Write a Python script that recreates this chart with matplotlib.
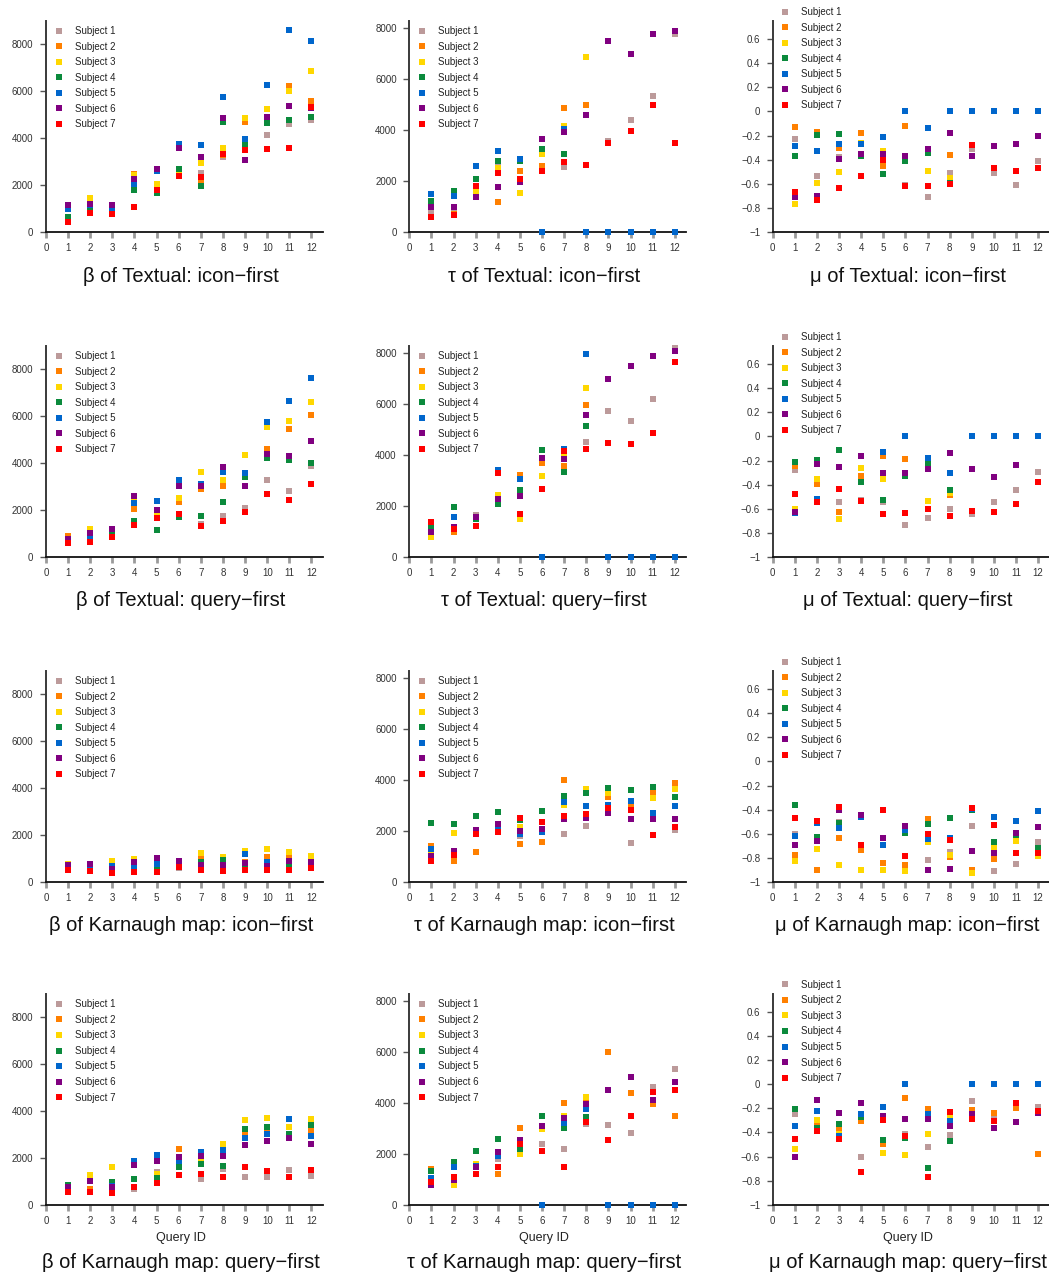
import matplotlib
matplotlib.use("Agg")
import matplotlib.pyplot as plt
from matplotlib.lines import Line2D

plt.rcParams["font.family"] = ["Liberation Sans", "DejaVu Sans"]

queries = list(range(1, 13))
subjects = ["Subject 1", "Subject 2", "Subject 3", "Subject 4",
            "Subject 5", "Subject 6", "Subject 7"]
colors = ["#bc9a9a", "#ff8000", "#ffd700", "#0b8a3c",
          "#0066cc", "#800080", "#ff0000"]

# rows: Subject 1..7, columns: Query 1..12
beta_textual_icon = [
    [1000, 1000, 780, 2300, 1750, 2450, 2540, 3220, 3815, 4155, 4600, 4780],
    [1150, 850, 1100, 2480, 1850, 2500, 2185, 3300, 4710, 4780, 6210, 5575],
    [650, 1447, 1150, 2440, 2040, 2580, 2965, 3600, 4880, 5250, 6000, 6865],
    [670, 1050, 920, 1800, 1690, 2700, 1985, 4680, 3700, 4640, 4795, 4920],
    [980, 1180, 1000, 2040, 2620, 3745, 3730, 5770, 3985, 6270, 8610, 8160],
    [1160, 1206, 1163, 2270, 2700, 3600, 3220, 4865, 3090, 4920, 5375, 5300],
    [450, 837, 766, 1090, 1815, 2410, 2370, 3320, 3500, 3560, 3600, 5350],
]
tau_textual_icon = [
    [850, 877, 1800, 2670, 2800, 2450, 2565, 2650, 3600, 4424, 5366, 7800],
    [1050, 700, 1700, 1204, 2408, 2618, 4895, 5013, 7510, 7016, 7801, 7906],
    [1000, 1000, 1610, 2540, 1531, 3076, 4160, 6898, 3520, 3992, 5013, 3521],
    [1217, 1623, 2107, 2814, 2800, 3285, 3089, 4620, 3520, 3992, 5013, 3521],
    [1505, 1440, 2618, 3194, 2880, 0, 4058, 0, 0, 0, 0, 0],
    [1008, 1008, 1400, 1793, 1990, 3678, 3953, 4620, 7513, 7016, 7801, 7906],
    [615, 680, 1832, 2343, 2094, 2421, 2762, 2657, 3521, 3992, 5013, 3521],
]
mu_textual_icon = [
    [-0.226, -0.532, -0.38, -0.35, -0.40, -0.61, -0.705, -0.512, -0.311, -0.507, -0.606, -0.408],
    [-0.127, -0.17, -0.30, -0.176, -0.449, -0.118, -0.31, -0.358, -0.28, -0.47, -0.49, -0.47],
    [-0.763, -0.59, -0.501, -0.26, -0.325, -0.37, -0.49, -0.554, -0.28, -0.47, -0.49, -0.47],
    [-0.366, -0.193, -0.187, -0.369, -0.515, -0.41, -0.347, -0.59, -0.365, -0.285, -0.27, -0.2],
    [-0.284, -0.325, -0.267, -0.267, -0.209, 0, -0.135, 0, 0, 0, 0, 0],
    [-0.708, -0.697, -0.391, -0.35, -0.35, -0.366, -0.309, -0.176, -0.366, -0.284, -0.267, -0.201],
    [-0.667, -0.735, -0.631, -0.532, -0.40, -0.614, -0.614, -0.598, -0.275, -0.466, -0.49, -0.466],
]
beta_textual_query = [
    [700, 900, 900, 1400, 1700, 1800, 1400, 1759, 2100, 3290, 2837, 3900],
    [922, 950, 1000, 2070, 2000, 2340, 2908, 3035, 3500, 4595, 5460, 6057],
    [780, 1190, 1100, 2480, 1870, 2540, 3645, 3290, 4355, 5560, 5800, 6610],
    [650, 800, 1020, 1546, 1177, 1716, 1773, 2355, 3430, 4227, 4142, 4014],
    [750, 880, 1220, 2300, 2411, 3277, 3135, 3645, 3600, 5760, 6652, 7631],
    [780, 1050, 1220, 2624, 2028, 3050, 3035, 3844, 3035, 4397, 4312, 4950],
    [596, 667, 850, 1376, 1688, 1858, 1348, 1546, 1943, 2695, 2454, 3120],
]
tau_textual_query = [
    [1000, 1150, 1660, 2300, 2600, 3900, 3900, 4529, 5746, 5366, 6230, 8233],
    [1100, 982, 1550, 2300, 3233, 3704, 3573, 5982, 7016, 7513, 7906, 8115],
    [785, 1126, 1584, 2448, 1505, 3194, 4100, 6662, 4503, 4463, 4895, 7683],
    [1204, 1990, 1490, 2094, 2631, 4215, 3364, 5170, 4503, 4463, 4895, 7683],
    [1400, 1597, 1584, 3416, 3076, 0, 4240, 7997, 0, 0, 0, 0],
    [1008, 1204, 1584, 2290, 2408, 3914, 3861, 5589, 7016, 7513, 7906, 8115],
    [1400, 1126, 1230, 3311, 1700, 2683, 4188, 4267, 4503, 4463, 4895, 7683],
]
mu_textual_query = [
    [-0.275, -0.53, -0.543, -0.53, -0.543, -0.733, -0.672, -0.60, -0.642, -0.54, -0.444, -0.292],
    [-0.245, -0.397, -0.625, -0.331, -0.165, -0.185, -0.60, -0.485, -0.614, -0.623, -0.556, -0.377],
    [-0.60, -0.35, -0.68, -0.259, -0.353, -0.631, -0.534, -0.47, -0.614, -0.623, -0.556, -0.377],
    [-0.209, -0.193, -0.113, -0.375, -0.526, -0.325, -0.231, -0.441, -0.267, -0.333, -0.234, -0.377],
    [-0.636, -0.518, -0.251, -0.163, -0.129, 0, -0.176, -0.30, 0, 0, 0, 0],
    [-0.625, -0.226, -0.251, -0.163, -0.30, -0.30, -0.267, -0.135, -0.267, -0.333, -0.234, -0.377],
    [-0.477, -0.54, -0.435, -0.532, -0.642, -0.631, -0.60, -0.658, -0.614, -0.623, -0.556, -0.377],
]
beta_karnaugh_icon = [
    [600, 500, 500, 500, 500, 600, 600, 600, 800, 600, 600, 600],
    [700, 600, 600, 700, 700, 700, 1007, 800, 850, 1092, 1120, 900],
    [800, 650, 922, 980, 750, 800, 1262, 1080, 1350, 1433, 1305, 1135],
    [650, 600, 550, 600, 640, 750, 865, 950, 667, 700, 723, 700],
    [700, 640, 709, 652, 794, 640, 752, 700, 1220, 865, 920, 800],
    [740, 794, 567, 865, 1035, 922, 752, 738, 837, 695, 922, 865],
    [510, 496, 411, 440, 454, 640, 525, 496, 525, 510, 525, 624],
]
tau_karnaugh_icon = [
    [900, 1000, 1900, 2000, 1806, 2000, 1898, 2212, 2900, 1545, 2600, 2042],
    [1427, 851, 1190, 2100, 1518, 1584, 4018, 3000, 3364, 3050, 3547, 3900],
    [1190, 1937, 1950, 2200, 2160, 2100, 3024, 3650, 3520, 3207, 3325, 3678],
    [2330, 2290, 2605, 2775, 2434, 2814, 3390, 3520, 3704, 3625, 3743, 3364],
    [1309, 1100, 2000, 2133, 1910, 1963, 3154, 2997, 3036, 3207, 2710, 3010],
    [1047, 1230, 2055, 2277, 2015, 2094, 2474, 2540, 2722, 2500, 2500, 2500],
    [851, 1086, 1898, 1976, 2526, 2369, 2605, 2696, 2932, 2853, 1872, 2173],
]
mu_karnaugh_icon = [
    [-0.60, -0.65, -0.50, -0.44, -0.63, -0.78, -0.815, -0.747, -0.532, -0.904, -0.846, -0.667],
    [-0.771, -0.898, -0.631, -0.733, -0.837, -0.857, -0.474, -0.793, -0.898, -0.804, -0.645, -0.755],
    [-0.821, -0.725, -0.857, -0.898, -0.898, -0.904, -0.664, -0.777, -0.92, -0.711, -0.661, -0.78],
    [-0.361, -0.623, -0.512, -0.69, -0.63, -0.59, -0.515, -0.466, -0.40, -0.667, -0.61, -0.716],
    [-0.614, -0.512, -0.551, -0.457, -0.689, -0.57, -0.645, -0.634, -0.394, -0.457, -0.49, -0.408],
    [-0.689, -0.656, -0.405, -0.441, -0.631, -0.532, -0.898, -0.887, -0.741, -0.755, -0.59, -0.543],
    [-0.466, -0.493, -0.377, -0.689, -0.402, -0.782, -0.60, -0.65, -0.383, -0.523, -0.755, -0.755],
]
beta_karnaugh_query = [
    [600, 600, 600, 672, 1400, 1700, 1116, 1531, 1202, 1173, 1502, 1245],
    [650, 700, 700, 1700, 1300, 2375, 2000, 2500, 3061, 3176, 3000, 3176],
    [700, 1259, 1602, 1800, 1316, 1900, 1903, 2604, 3605, 3691, 3305, 3662],
    [830, 1001, 973, 1087, 1159, 1617, 1731, 1674, 3219, 3305, 3033, 3405],
    [750, 1001, 800, 1860, 2146, 1888, 2260, 2360, 2861, 3019, 3662, 2918],
    [773, 1001, 758, 1688, 1860, 2031, 2074, 2103, 2532, 2718, 2847, 2575],
    [544, 572, 529, 787, 916, 1259, 1330, 1202, 1631, 1459, 1202, 1502],
]
tau_karnaugh_query = [
    [800, 1000, 1500, 1793, 2300, 2382, 2199, 3180, 3128, 2814, 4620, 5327],
    [1420, 1100, 1600, 1204, 3010, 3000, 3992, 4058, 5995, 4385, 3979, 3495],
    [1000, 798, 1623, 2000, 2003, 2971, 3495, 4228, 4503, 3495, 4437, 4503],
    [1335, 1675, 2120, 2578, 2212, 3495, 3024, 3469, 2552, 3495, 4437, 4503],
    [1073, 1479, 1550, 1937, 2565, 0, 3207, 3770, 0, 0, 0, 0],
    [798, 968, 1492, 2068, 2539, 3089, 3416, 3966, 4503, 5013, 4110, 4817],
    [890, 1099, 1204, 1479, 2382, 2120, 1479, 3259, 2552, 3495, 4437, 4503],
]
mu_karnaugh_query = [
    [-0.25, -0.30, -0.36, -0.60, -0.47, -0.41, -0.517, -0.422, -0.142, -0.267, -0.156, -0.186],
    [-0.206, -0.336, -0.364, -0.305, -0.494, -0.117, -0.206, -0.24, -0.217, -0.242, -0.194, -0.575],
    [-0.539, -0.30, -0.41, -0.25, -0.572, -0.583, -0.414, -0.278, -0.25, -0.305, -0.156, -0.222],
    [-0.206, -0.364, -0.333, -0.27, -0.464, -0.444, -0.692, -0.472, -0.25, -0.305, -0.156, -0.222],
    [-0.35, -0.225, -0.428, -0.25, -0.192, 0, -0.247, -0.305, 0, 0, 0, 0],
    [-0.60, -0.131, -0.239, -0.158, -0.264, -0.292, -0.289, -0.347, -0.25, -0.367, -0.317, -0.24],
    [-0.45, -0.386, -0.456, -0.73, -0.297, -0.43, -0.772, -0.23, -0.289, -0.305, -0.156, -0.222],
]

panels = [
    [(beta_textual_icon, "β of Textual: icon−first", "count"),
     (tau_textual_icon, "τ of Textual: icon−first", "tau"),
     (mu_textual_icon, "μ of Textual: icon−first", "mu")],
    [(beta_textual_query, "β of Textual: query−first", "count"),
     (tau_textual_query, "τ of Textual: query−first", "tau"),
     (mu_textual_query, "μ of Textual: query−first", "mu")],
    [(beta_karnaugh_icon, "β of Karnaugh map: icon−first", "count"),
     (tau_karnaugh_icon, "τ of Karnaugh map: icon−first", "tau"),
     (mu_karnaugh_icon, "μ of Karnaugh map: icon−first", "mu")],
    [(beta_karnaugh_query, "β of Karnaugh map: query−first", "count"),
     (tau_karnaugh_query, "τ of Karnaugh map: query−first", "tau"),
     (mu_karnaugh_query, "μ of Karnaugh map: query−first", "mu")],
]

W, H = 1049, 1274
fig = plt.figure(figsize=(W / 100, H / 100), dpi=100)

col_left = [46, 409.3, 772.7]
ax_w = 276.5
row_bottom = [232.3, 557.3, 882.3, 1205.0]
ax_h = 211.5
MS = 4.1

count_ticks = [0, 2000, 4000, 6000, 8000]
mu_ticks = [-1, -0.8, -0.6, -0.4, -0.2, 0, 0.2, 0.4, 0.6]
mu_labels = ["−1", "−0.8", "−0.6", "−0.4", "−0.2", "0", "0.2", "0.4", "0.6"]

handles = [Line2D([], [], linestyle="none", marker="s", markersize=MS,
                  markeredgewidth=0, color=c) for c in colors]

for r, row in enumerate(panels):
    for c, (data, title, kind) in enumerate(row):
        left = col_left[c] / W
        bottom = 1 - row_bottom[r] / H
        ax = fig.add_axes([left, bottom, ax_w / W, ax_h / H])
        for s in range(7):
            ax.plot(queries, data[s], linestyle="none", marker="s",
                    markersize=MS, markeredgewidth=0, color=colors[s],
                    clip_on=False, zorder=3)
        ax.set_xlim(0, 12.5)
        ax.set_xticks(range(0, 13))
        if kind == "count":
            ax.set_ylim(0, 9000)
            ax.set_yticks(count_ticks)
        elif kind == "tau":
            ax.set_ylim(0, 8300)
            ax.set_yticks(count_ticks)
        else:
            ax.set_ylim(-1, 0.75)
            ax.set_yticks(mu_ticks, labels=mu_labels)
        for side in ("top", "right"):
            ax.spines[side].set_visible(False)
        ax.spines["left"].set_color("#3a3a3a")
        ax.spines["left"].set_linewidth(1.4)
        ax.spines["bottom"].set_color("#111111")
        ax.spines["bottom"].set_linewidth(1.3)
        ax.tick_params(axis="x", direction="out", length=4, width=2,
                       color="#9a9a9a", labelsize=7, labelcolor="#333333", pad=4)
        ax.tick_params(axis="y", direction="out", length=4, width=1,
                       color="#555555", labelsize=7, labelcolor="#333333", pad=5)

        # legend in the upper-left corner of each panel
        if kind == "mu":
            top_off = -13.7
        else:
            top_off = 5.3 if r < 3 else 5.8
        leg_top = 1 - top_off / ax_h
        ax.legend(handles, subjects, loc="upper left",
                  bbox_to_anchor=(7.7 / ax_w, leg_top), frameon=False,
                  fontsize=7, handlelength=1.0, handletextpad=1.15,
                  labelspacing=0.57, borderpad=0, borderaxespad=0,
                  labelcolor="#222222")

        if r == 3:
            ax.annotate("Query ID", xy=(6.1, 0), xycoords=("data", "axes fraction"),
                        xytext=(0, -33 * 0.72), textcoords="offset points",
                        ha="center", va="center", fontsize=9, color="#222222")
            off = 57
        else:
            off = 43.7
        ax.annotate(title, xy=(6.1, 0), xycoords=("data", "axes fraction"),
                    xytext=(0, -off * 0.72), textcoords="offset points",
                    ha="center", va="center", fontsize=14.5, color="#111111")

fig.savefig("out.png", dpi=100)
